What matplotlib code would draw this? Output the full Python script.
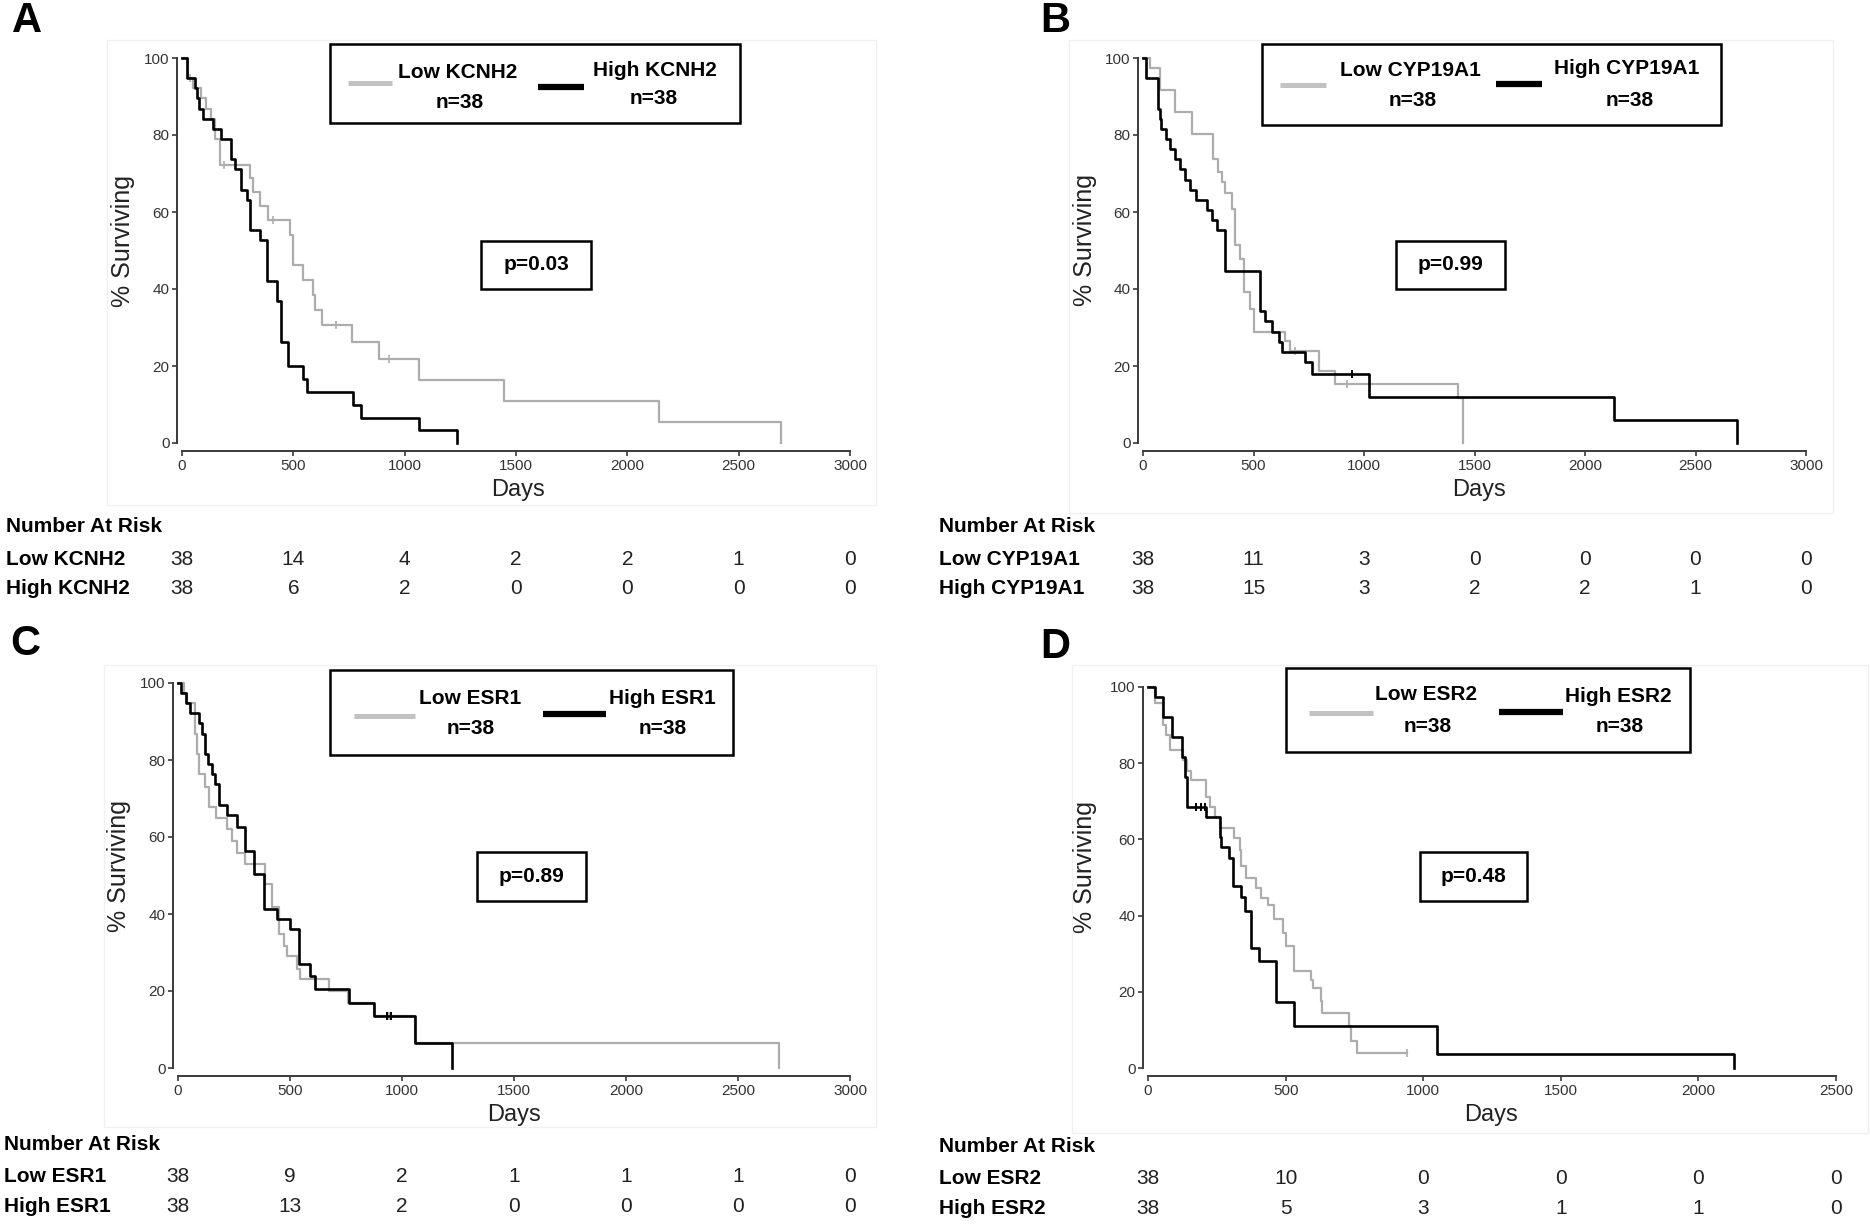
import numpy as np
import matplotlib
matplotlib.use("Agg")
from matplotlib import pyplot as plt
from matplotlib.patches import Rectangle
from matplotlib.lines import Line2D
import matplotlib.transforms as mtransforms

# ---- data (days, % surviving; step after each time) ----
a_low_t = [0, 27, 50, 87, 110, 132, 147, 170, 305, 320, 350, 387, 485, 500, 545, 590, 598, 628, 763, 883, 1063, 1446, 2140, 2688]
a_low_s = [100, 94.7, 92.1, 89.5, 86.8, 84.2, 78.9, 72.3, 68.9, 65.3, 61.6, 57.8, 53.9, 46.2, 42.3, 38.4, 34.5, 30.7, 26.3, 21.9, 16.4, 10.9, 5.5, 0]
a_low_cens = [37, 190, 410, 690, 930]
a_high_t = [0, 22, 57, 66, 77, 95, 140, 177, 219, 237, 263, 293, 305, 350, 380, 425, 444, 477, 545, 563, 767, 805, 1063, 1233]
a_high_s = [100, 94.7, 92.1, 89.5, 86.8, 84.2, 81.6, 78.9, 73.7, 71.1, 65.8, 63.2, 55.3, 52.6, 42.1, 36.8, 26.3, 19.9, 16.6, 13.3, 10.0, 6.6, 3.3, 0]
a_high_cens = []

b_low_t = [0, 30, 76, 144, 220, 318, 340, 356, 371, 402, 417, 439, 455, 485, 500, 644, 667, 795, 871, 1424, 1447]
b_low_s = [100, 97.4, 91.6, 86.0, 80.3, 73.7, 70.3, 67.7, 65.0, 60.8, 51.3, 47.7, 39.1, 34.7, 28.9, 26.6, 23.9, 18.7, 15.2, 11.7, 0]
b_low_cens = [690, 924]
b_high_t = [0, 15, 68, 75, 83, 106, 121, 144, 167, 189, 212, 242, 288, 311, 333, 371, 530, 553, 583, 614, 629, 735, 765, 1023, 2130, 2690]
b_high_s = [100, 94.7, 86.8, 84.2, 81.6, 78.9, 76.3, 73.7, 71.1, 68.4, 65.8, 63.2, 60.5, 57.9, 55.3, 44.7, 34.2, 31.6, 28.9, 26.3, 23.7, 21.1, 17.8, 11.9, 5.9, 0]
b_high_cens = [947]

c_low_t = [0, 25, 40, 77, 85, 92, 122, 137, 170, 219, 241, 263, 300, 390, 420, 449, 472, 487, 531, 546, 673, 760, 873, 1057, 2685]
c_low_s = [100, 97.4, 94.7, 86.8, 81.6, 76.4, 73.0, 67.8, 65.0, 62.0, 59.0, 55.8, 53.0, 47.7, 41.7, 34.8, 31.7, 29.0, 25.6, 23.0, 20.0, 17.0, 13.5, 6.5, 0]
c_low_cens = [940]
c_high_t = [0, 12, 36, 55, 92, 107, 122, 134, 152, 167, 182, 219, 263, 301, 338, 382, 442, 501, 539, 591, 613, 762, 873, 1057, 1223]
c_high_s = [100, 97.4, 94.7, 92.1, 89.5, 86.8, 81.6, 78.9, 76.3, 73.7, 68.4, 65.8, 62.5, 56.4, 50.3, 41.3, 38.7, 36.0, 27.0, 23.9, 20.4, 17.0, 13.5, 6.5, 0]
c_high_cens = [933, 952]

d_low_t = [0, 25, 55, 67, 80, 128, 140, 158, 212, 224, 242, 260, 314, 333, 339, 357, 393, 411, 435, 459, 489, 501, 531, 592, 598, 628, 634, 730, 736, 760, 941]
d_low_s = [100, 95.7, 90.0, 87.5, 83.5, 80.9, 78.0, 75.6, 71.0, 68.6, 65.8, 63.0, 60.3, 57.3, 52.9, 50.0, 47.2, 44.5, 42.9, 39.0, 35.5, 32.0, 25.4, 23.0, 21.0, 17.5, 14.5, 11.0, 7.0, 4.0, 4.0]
d_low_cens = [941]
d_high_t = [0, 25, 55, 86, 125, 134, 140, 212, 260, 266, 296, 308, 339, 351, 375, 405, 465, 531, 1049, 2129]
d_high_s = [100, 97.4, 92.1, 86.8, 81.6, 76.3, 68.4, 65.8, 60.5, 57.9, 55.0, 47.9, 45.0, 41.3, 31.4, 28.2, 17.2, 11.0, 3.6, 0]
d_high_cens = [176, 194, 206]

# number at risk tables
a_risk_low = [38, 14, 4, 2, 2, 1, 0]
a_risk_high = [38, 6, 2, 0, 0, 0, 0]
b_risk_low = [38, 11, 3, 0, 0, 0, 0]
b_risk_high = [38, 15, 3, 2, 2, 1, 0]
c_risk_low = [38, 9, 2, 1, 1, 1, 0]
c_risk_high = [38, 13, 2, 0, 0, 0, 0]
d_risk_low = [38, 10, 0, 0, 0, 0]
d_risk_high = [38, 5, 3, 1, 1, 0]

genes = ["KCNH2", "CYP19A1", "ESR1", "ESR2"]
p_values = ["p=0.03", "p=0.99", "p=0.89", "p=0.48"]
letters = ["A", "B", "C", "D"]
x_max = [3000, 3000, 3000, 2500]

W, H = 1870, 1224
GRAY = "#adadad"
NARROW = ['Liberation Sans Narrow', 'Liberation Sans', 'DejaVu Sans']
plt.rcParams['font.family'] = ['Liberation Sans', 'DejaVu Sans']


def fx(x):
	return x / W


def fy(y):
	return 1 - y / H


def surv_at(t, s, x):
	idx = np.searchsorted(t, x, side='right') - 1
	return np.asarray(s)[idx]


fig = plt.figure(figsize=(W / 100, H / 100), dpi=100)

# layout in pixels: axes box (left, top, right, bottom)
ax_box = [(182, 58, 850, 443), (1143, 58, 1806, 443), (178, 683, 850, 1068), (1148, 687, 1836, 1068)]
frame_box = [(107, 40, 876, 505), (1069, 40, 1833, 513), (104, 665, 876, 1127), (1072, 665, 1868, 1133)]
ylabel_pos = [(123, 241), (1085, 240), (119, 866), (1085, 867)]
days_pos = [(518, 490), (1479, 490), (514, 1115), (1491, 1115)]
legend_box = [(330, 44, 740, 123), (1262, 44, 1721, 125), (330, 670, 733, 755), (1286, 668, 1690, 752)]
legend_items = [
	# gray swatch x0,x1,y / low label / low n / black swatch / high label / high n
	((348, 392, 83), (458, 73), (460, 102), (538, 584, 87), (655, 70), (654, 98)),
	((1280, 1326, 85), (1410, 70), (1413, 101), (1496, 1542, 84), (1627, 69), (1630, 101)),
	((354, 415, 716), (470, 698), (471, 728), (543, 606, 714), (662, 698), (663, 729)),
	((1309, 1373, 713), (1426, 695), (1428, 726), (1499, 1563, 712), (1618, 696), (1620, 726)),
]
p_box = [(481, 241, 591, 289), (1396, 241, 1505, 289), (477, 852, 586, 901), (1420, 852, 1527, 901)]
letter_pos = [(27, 21), (1055, 21), (25, 644), (1055, 647)]
table_x = [6, 939, 4, 939]
table_y = [(527, 560, 588), (527, 560, 588), (1145, 1177, 1207), (1147, 1178, 1208)]

curves = [
	(a_low_t, a_low_s, a_low_cens, a_high_t, a_high_s, a_high_cens, a_risk_low, a_risk_high),
	(b_low_t, b_low_s, b_low_cens, b_high_t, b_high_s, b_high_cens, b_risk_low, b_risk_high),
	(c_low_t, c_low_s, c_low_cens, c_high_t, c_high_s, c_high_cens, c_risk_low, c_risk_high),
	(d_low_t, d_low_s, d_low_cens, d_high_t, d_high_s, d_high_cens, d_risk_low, d_risk_high),
]

for i in range(4):
	lt, ls, lc, ht, hs, hc, rl, rh = curves[i]
	l, t, r, b = ax_box[i]

	# faint frame of the original graph
	fl, ft, fr, fb = frame_box[i]
	fig.patches.append(Rectangle((fx(fl), fy(fb)), (fr - fl) / W, (fb - ft) / H,
		transform=fig.transFigure, fill=False, ec="#f0f0f0", lw=1))

	ax = fig.add_axes([fx(l), fy(b), (r - l) / W, (b - t) / H])
	ax.set_xlim(0, x_max[i])
	ax.set_ylim(0, 100)
	ax.patch.set_alpha(0)

	ax.step(lt, ls, where='post', color=GRAY, lw=1.6, clip_on=False)
	if lc:
		ax.plot(lc, surv_at(lt, ls, lc), ls='none', marker='|', ms=6, mew=1.2, color=GRAY, clip_on=False)
	ax.step(ht, hs, where='post', color='black', lw=1.9, clip_on=False)
	if hc:
		ax.plot(hc, surv_at(ht, hs, hc), ls='none', marker='|', ms=6, mew=1.4, color='black', clip_on=False)

	for side in ['top', 'right']:
		ax.spines[side].set_visible(False)
	ax.spines['left'].set_position(('outward', 3.5))
	ax.spines['bottom'].set_position(('outward', 6))
	ax.spines['left'].set_bounds(0, 100)
	ax.spines['bottom'].set_bounds(0, x_max[i])
	for side in ['left', 'bottom']:
		ax.spines[side].set_color('#3a3a3a')
		ax.spines[side].set_linewidth(1.4)
	ax.set_xticks(np.arange(0, x_max[i] + 1, 500))
	ax.set_yticks(np.arange(0, 101, 20))
	ax.tick_params(length=3.5, width=1.2, color='#3a3a3a', labelsize=11, labelcolor='#333333', pad=2)
	for lab in ax.get_xticklabels() + ax.get_yticklabels():
		lab.set_family(NARROW)

	fig.text(fx(ylabel_pos[i][0]), fy(ylabel_pos[i][1]), "% Surviving", rotation=90,
		ha='center', va='center', fontsize=18, color='#222222')
	fig.text(fx(days_pos[i][0]), fy(days_pos[i][1]), "Days", ha='center', va='center',
		fontsize=17, color='#222222')

	# legend box
	bl, bt, br, bb = legend_box[i]
	fig.patches.append(Rectangle((fx(bl), fy(bb)), (br - bl) / W, (bb - bt) / H,
		transform=fig.transFigure, fill=False, ec='black', lw=1.8))
	gsw, llab, ln, bsw, hlab, hn = legend_items[i]
	fig.lines.append(Line2D([fx(gsw[0]), fx(gsw[1])], [fy(gsw[2])] * 2, transform=fig.transFigure,
		color='#c2c2c2', lw=3.6, solid_capstyle='butt'))
	fig.lines.append(Line2D([fx(bsw[0]), fx(bsw[1])], [fy(bsw[2])] * 2, transform=fig.transFigure,
		color='black', lw=4.5, solid_capstyle='butt'))
	for pos, txt in [(llab, "Low " + genes[i]), (ln, "n=38"), (hlab, "High " + genes[i]), (hn, "n=38")]:
		fig.text(fx(pos[0]), fy(pos[1]), txt, ha='center', va='center', fontsize=15,
			fontweight='bold', family=NARROW)

	# p-value box
	pl, pt, pr, pb = p_box[i]
	fig.patches.append(Rectangle((fx(pl), fy(pb)), (pr - pl) / W, (pb - pt) / H,
		transform=fig.transFigure, fill=False, ec='black', lw=1.8))
	fig.text(fx((pl + pr) / 2), fy((pt + pb) / 2), p_values[i], ha='center', va='center',
		fontsize=15, fontweight='bold', family=NARROW)

	# panel letter
	fig.text(fx(letter_pos[i][0]), fy(letter_pos[i][1]), letters[i], ha='center', va='center',
		fontsize=30, fontweight='bold')

	# number at risk table
	trans = mtransforms.blended_transform_factory(ax.transData, fig.transFigure)
	hy, ly, hy2 = table_y[i]
	fig.text(fx(table_x[i]), fy(hy), "Number At Risk", ha='left', va='center', fontsize=15,
		fontweight='bold', family=NARROW)
	fig.text(fx(table_x[i]), fy(ly), "Low " + genes[i], ha='left', va='center', fontsize=15,
		fontweight='bold', family=NARROW)
	fig.text(fx(table_x[i]), fy(hy2), "High " + genes[i], ha='left', va='center', fontsize=15,
		fontweight='bold', family=NARROW)
	ticks = np.arange(0, x_max[i] + 1, 500)
	for xv, n_low, n_high in zip(ticks, rl, rh):
		ax.text(xv, fy(ly), str(n_low), transform=trans, ha='center', va='center', fontsize=15,
			family=NARROW, color='#222222')
		ax.text(xv, fy(hy2), str(n_high), transform=trans, ha='center', va='center', fontsize=15,
			family=NARROW, color='#222222')

fig.savefig("out.png", dpi=100)
